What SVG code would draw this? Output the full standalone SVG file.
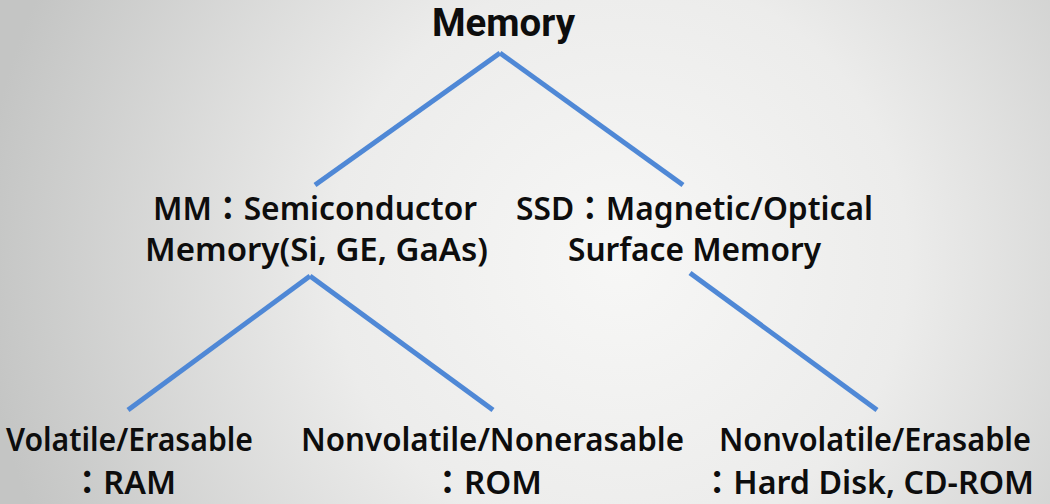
<svg xmlns="http://www.w3.org/2000/svg" width="1050" height="504" viewBox="0 0 1050 504">
<defs>
<radialGradient id="bg" cx="620" cy="260" r="640" gradientUnits="userSpaceOnUse">
<stop offset="0" stop-color="#f7f7f6"/>
<stop offset="0.45" stop-color="#ececeb"/>
<stop offset="1" stop-color="#c4c5c4"/>
</radialGradient>
<style>
.t{font-family:"Noto Sans","Noto Sans CJK KR",sans-serif;font-size:33px;font-weight:600;fill:#0d0d0d}
.b{font-family:Roboto,"Noto Sans",sans-serif;font-size:38px;font-weight:700}
.s{font-size:32px}
.c line{stroke:#4f88d6;stroke-width:5;stroke-linecap:butt}
</style>
</defs>
<rect width="1050" height="504" fill="url(#bg)"/>
<g class="c" id="connectors">
<line x1="500" y1="53" x2="315" y2="185"/>
<line x1="500" y1="53" x2="683" y2="185"/>
<line x1="310" y1="276" x2="128" y2="410"/>
<line x1="310" y1="276" x2="493" y2="410"/>
<line x1="690" y1="273" x2="877" y2="410"/>
</g>
<g id="memory"><text class="t b" x="432" y="36" textLength="143" lengthAdjust="spacingAndGlyphs">Memory</text></g>
<g id="mm"><text class="t"><tspan x="153" y="220" textLength="324" lengthAdjust="spacingAndGlyphs">MM：Semiconductor</tspan><tspan x="145" y="261" textLength="343" lengthAdjust="spacingAndGlyphs">Memory(Si, GE, GaAs)</tspan></text></g>
<g id="ssd"><text class="t"><tspan x="516" y="220" textLength="357" lengthAdjust="spacingAndGlyphs">SSD：Magnetic/Optical</tspan><tspan x="568" y="261" textLength="253" lengthAdjust="spacingAndGlyphs">Surface Memory</tspan></text></g>
<g id="ram"><text class="t"><tspan x="6" y="451" textLength="247" lengthAdjust="spacingAndGlyphs">Volatile/Erasable</tspan><tspan x="71" y="494" textLength="105" lengthAdjust="spacingAndGlyphs">：RAM</tspan></text></g>
<g id="rom"><text class="t"><tspan x="301" y="451" textLength="383" lengthAdjust="spacingAndGlyphs">Nonvolatile/Nonerasable</tspan><tspan x="431" y="494" textLength="111" lengthAdjust="spacingAndGlyphs">：ROM</tspan></text></g>
<g id="disk"><text class="t s"><tspan x="719" y="451" textLength="312" lengthAdjust="spacingAndGlyphs">Nonvolatile/Erasable</tspan><tspan x="701" y="494" textLength="333" lengthAdjust="spacingAndGlyphs">：Hard Disk, CD-ROM</tspan></text></g>
</svg>
